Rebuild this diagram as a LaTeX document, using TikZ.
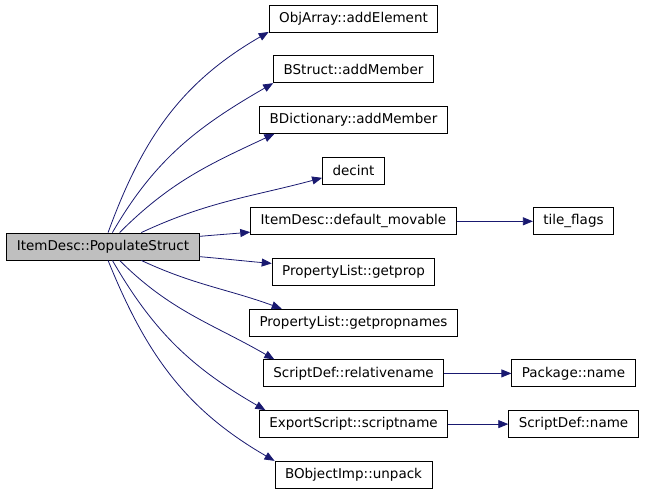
\documentclass[tikz,border=0pt]{standalone}
\usepackage{fontspec}
\setmainfont{DejaVu Sans}
\usetikzlibrary{positioning, arrows.meta}
\definecolor{edgeblue}{RGB}{25,25,112}

\begin{document}
\begin{tikzpicture}[
    x=1pt, y=1pt,
    every node/.style={draw, rectangle, line width=0.9pt, minimum height=27pt, inner xsep=10pt, inner ysep=0pt, font=\fontsize{13.5}{16}\selectfont},
    caller/.style={fill=black!25},
    arrow/.style={-{Triangle[length=10pt, width=8pt]}, draw=edgeblue, line width=0.8pt}
]
\useasboundingbox (0,0) rectangle (645,-493);

\node (addelem) at (353.5,-18.5) {ObjArray::addElement};
\node[below=22.8pt of addelem] (addmemb) {BStruct::addMember};
\node[below=22.8pt of addmemb] (dictmemb) {BDictionary::addMember};
\node[below=22.8pt of dictmemb] (decint) {decint};
\node[below=22.8pt of decint] (movable) {ItemDesc::default\_movable};
\node[below=22.8pt of movable] (getprop) {PropertyList::getprop};
\node[below=22.8pt of getprop] (propnames) {PropertyList::getpropnames};
\node[below=22.8pt of propnames] (relname) {ScriptDef::relativename};
\node[below=22.8pt of relname] (scriptname) {ExportScript::scriptname};
\node[below=22.8pt of scriptname] (unpack) {BObjectImp::unpack};

\node[caller] (populate) at (103,-246.5) {ItemDesc::PopulateStruct};
\node (tileflags) at (573.5,0 |- movable) {tile\_flags};
\node (pkgname) at (tileflags |- relname) {Package::name};
\node (defname) at (tileflags |- scriptname) {ScriptDef::name};

\draw[arrow] (populate.70) to[out=70, in=210] (addelem.189);
\draw[arrow] (populate.56) to[out=60, in=210] (addmemb.south west);
\draw[arrow] (populate.40) to[out=45, in=205] (dictmemb.190);
\draw[arrow] (populate.20) to[out=25, in=195] (decint.193);
\draw[arrow] (populate.6) to[out=5, in=185] (movable.186);
\draw[arrow] (populate.-6) to[out=-5, in=175] (getprop.174);
\draw[arrow] (populate.-20) to[out=-25, in=160] (propnames.169);
\draw[arrow] (populate.-40) to[out=-45, in=150] (relname.170);
\draw[arrow] (populate.-56) to[out=-60, in=150] (scriptname.171);
\draw[arrow] (populate.-70) to[out=-68, in=150] (unpack.north west);

\draw[arrow] (movable) -- (tileflags);
\draw[arrow] (relname) -- (pkgname);
\draw[arrow] (scriptname) -- (defname);

\end{tikzpicture}
\end{document}
